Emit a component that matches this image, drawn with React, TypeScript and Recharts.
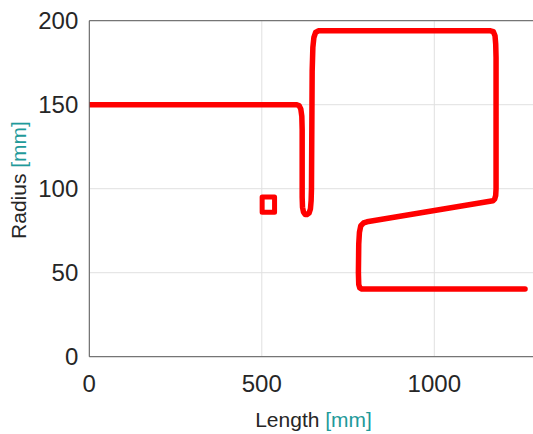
import React from "react";
import {
  LineChart,
  Line,
  XAxis,
  YAxis,
  CartesianGrid,
  ReferenceLine,
  Label,
} from "recharts";

// Main profile path (Length [mm], Radius [mm])
const profileLength = [
  0, 600, 608, 613, 616, 617, 617, 618, 621, 626, 631, 637, 641, 643, 644, 646,
  648, 651, 656, 664, 1163, 1171, 1176, 1178, 1179, 1179, 1178, 1175, 1170, 805,
  795, 787, 783, 781, 780, 781, 784, 790, 1263,
];
const profileRadius = [
  150, 150, 149.5, 147.5, 143, 135, 95, 89, 86, 84.6, 84.6, 85.5, 88, 93, 100,
  170, 184, 190, 193, 194, 194, 193.5, 191, 186, 178, 100, 96, 93.8, 92.8, 80.3,
  79.6, 78, 74, 67, 50, 43, 41, 40.3, 40.3,
];

// Small closed square
const squareLength = [501, 501, 537, 537, 501];
const squareRadius = [86, 95, 95, 86, 86];

const xTicks = [0, 500, 1000];
const yTicks = [0, 50, 100, 150, 200];

const profileData = profileLength.map((x, i) => ({ x, y: profileRadius[i] }));
const squareData = squareLength.map((x, i) => ({ x, y: squareRadius[i] }));

const FONT = "'Liberation Sans', Arial, Helvetica, sans-serif";
const TEXT = "#262626";
const TEAL = "#1f9a9a";
const AXIS = "#5a5a5a";

const XLabel = (props: any) => {
  const vb = props.viewBox || {};
  const cx = vb.x + vb.width / 2;
  return (
    <text
      x={cx}
      y={426.5}
      textAnchor="middle"
      fontFamily={FONT}
      fontSize={21}
      fill={TEXT}
    >
      Length <tspan fill={TEAL}>[mm]</tspan>
    </text>
  );
};

const YLabel = () => {
  const x = 26;
  const y = 180;
  return (
    <text
      x={x}
      y={y}
      transform={`rotate(-90, ${x}, ${y})`}
      textAnchor="middle"
      fontFamily={FONT}
      fontSize={21}
      fill={TEXT}
    >
      Radius <tspan fill={TEAL}>[mm]</tspan>
    </text>
  );
};

export default function App() {
  return (
    <div
      style={{
        width: 533,
        height: 434,
        overflow: "hidden",
        position: "relative",
        background: "#ffffff",
      }}
    >
      <style>{"html,body{margin:0;padding:0;overflow:hidden;}"}</style>
      <LineChart
        width={553}
        height={434}
        margin={{ top: 20.7, right: 15.2, left: 0, bottom: 0 }}
      >
        <CartesianGrid stroke="#e0e0e0" strokeWidth={1} />
        <XAxis
          type="number"
          dataKey="x"
          domain={[0, 1300]}
          ticks={xTicks}
          height={77.3}
          tickSize={0}
          tickMargin={18}
          axisLine={{ stroke: AXIS, strokeWidth: 1 }}
          tickLine={false}
          tick={{ fill: TEXT, fontSize: 24, fontFamily: FONT }}
          allowDataOverflow
        >
          <Label content={<XLabel />} />
        </XAxis>
        <YAxis
          type="number"
          dataKey="y"
          domain={[0, 200]}
          ticks={yTicks}
          width={89.3}
          tickSize={0}
          tickMargin={11}
          axisLine={{ stroke: AXIS, strokeWidth: 1 }}
          tickLine={false}
          tick={{ fill: TEXT, fontSize: 24, fontFamily: FONT }}
        >
          <Label content={<YLabel />} />
        </YAxis>
        <ReferenceLine y={200} stroke={AXIS} strokeWidth={1} />
        <ReferenceLine x={1300} stroke={AXIS} strokeWidth={1} />
        <Line
          data={profileData}
          dataKey="y"
          type="linear"
          stroke="#ff0000"
          strokeWidth={5.5}
          strokeLinecap="round"
          strokeLinejoin="round"
          dot={false}
          activeDot={false}
          isAnimationActive={false}
        />
        <Line
          data={squareData}
          dataKey="y"
          type="linear"
          stroke="#ff0000"
          strokeWidth={5}
          strokeLinecap="round"
          strokeLinejoin="round"
          dot={false}
          activeDot={false}
          isAnimationActive={false}
        />
      </LineChart>
    </div>
  );
}
